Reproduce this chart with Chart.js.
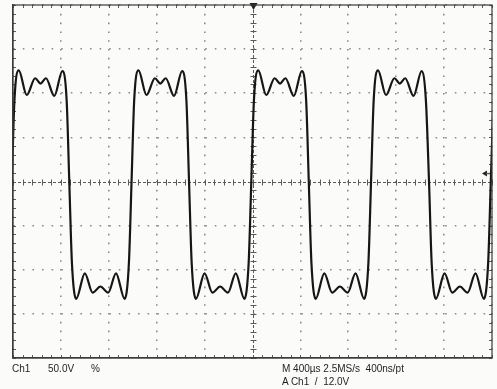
<!DOCTYPE html>
<html>
<head>
<meta charset="utf-8">
<script src="https://cdn.jsdelivr.net/npm/chart.js@4.4.0/dist/chart.umd.min.js"></script>
<style>
  html, body { margin: 0; padding: 0; background: #fbfbf9; }
  #wrap { position: relative; width: 497px; height: 389px; }
  #scope { position: absolute; left: 0; top: 0; }
  .lbl {
    position: absolute; font-family: "Liberation Sans", Arial, sans-serif;
    font-size: 10px; line-height: 1; color: #1e1e1e; white-space: pre;
  }
</style>
</head>
<body>
<div id="wrap">
  <canvas id="scope" width="497" height="389"></canvas>
  <div class="lbl" style="left:12px;top:364px;">Ch1</div>
  <div class="lbl" style="left:48px;top:364px;">50.0V</div>
  <div class="lbl" style="left:91px;top:364px;">%</div>
  <div class="lbl" style="left:282px;top:364px;">M 400µs 2.5MS/s  400ns/pt</div>
  <div class="lbl" style="left:282px;top:377px;">A Ch1  /  12.0V</div>
</div>
<script>
// trace: time in µs (400 µs/div), level in V (50 V/div)
const traceTimeUs = [
  -32, -10, 12, 48, 115, 185, 230, 275, 345, 412, 448, 470, 492, 528, 600, 665, 730, 795, 860, 932, 968,
  990, 1012, 1048, 1115, 1185, 1230, 1275, 1345, 1412, 1448, 1470, 1492, 1528, 1600, 1665, 1730, 1795, 1860, 1932, 1968,
  1990, 2012, 2048, 2115, 2185, 2230, 2275, 2345, 2412, 2448, 2470, 2492, 2528, 2600, 2665, 2730, 2795, 2860, 2932, 2968,
  2990, 3012, 3048, 3115, 3185, 3230, 3275, 3345, 3412, 3448, 3474, 3496, 3532, 3604, 3668, 3732, 3796, 3862, 3932, 3968,
  3990, 4012
];
const traceVolts = [
  -92, 0, 92, 126, 98, 117, 111, 117, 97, 125, 92, 0, -92, -133, -104, -126, -119, -126, -104, -133, -92,
  0, 92, 126, 98, 117, 111, 117, 97, 125, 92, 0, -92, -133, -104, -126, -119, -126, -104, -133, -92,
  0, 92, 126, 98, 117, 111, 117, 97, 125, 92, 0, -92, -133, -104, -126, -119, -126, -104, -133, -92,
  0, 92, 126, 98, 117, 111, 117, 97, 125, 92, 0, -92, -133, -104, -126, -119, -126, -104, -133, -92,
  0, 92
];

// screen: 10 x 8 divisions
const timeRange = [0, 4000];   // µs
const voltRange = [-200, 200]; // V
const timePerDiv = 400;
const voltPerDiv = 50;
const triggerPosUs = 2000;
const triggerLevelV = 9;

const points = traceTimeUs.map((t, i) => ({ x: t, y: traceVolts[i] }));

// graticule extras: centre cross with minor ticks, edge ticks, trigger marks
const scopeMarks = {
  id: 'scopeMarks',
  beforeDatasetsDraw(chart) {
    const { ctx, chartArea: a, scales: { x, y } } = chart;
    const xc = Math.round(x.getPixelForValue(triggerPosUs)) + 0.5;
    const yc = Math.round(y.getPixelForValue(0)) + 0.5;
    ctx.save();
    ctx.strokeStyle = '#5a5a5a';
    ctx.lineWidth = 1;

    // centre lines (dashed)
    ctx.setLineDash([3, 2]);
    ctx.beginPath();
    ctx.moveTo(a.left, yc); ctx.lineTo(a.right, yc);
    ctx.moveTo(xc, a.top); ctx.lineTo(xc, a.bottom);
    ctx.stroke();
    ctx.setLineDash([]);

    // minor ticks, 5 per division
    ctx.beginPath();
    for (let t = timeRange[0]; t <= timeRange[1]; t += timePerDiv / 5) {
      const px = Math.round(x.getPixelForValue(t)) + 0.5;
      ctx.moveTo(px, yc - 3); ctx.lineTo(px, yc + 3);
      ctx.moveTo(px, a.top); ctx.lineTo(px, a.top + 3);
      ctx.moveTo(px, a.bottom); ctx.lineTo(px, a.bottom - 3);
    }
    for (let v = voltRange[0]; v <= voltRange[1]; v += voltPerDiv / 5) {
      const py = Math.round(y.getPixelForValue(v)) + 0.5;
      ctx.moveTo(xc - 3, py); ctx.lineTo(xc + 3, py);
      ctx.moveTo(a.left, py); ctx.lineTo(a.left + 3, py);
      ctx.moveTo(a.right, py); ctx.lineTo(a.right - 3, py);
    }
    ctx.stroke();

    // trigger position (top) and level (right)
    ctx.fillStyle = '#222';
    ctx.beginPath();
    ctx.moveTo(xc - 4, a.top - 2); ctx.lineTo(xc + 4, a.top - 2); ctx.lineTo(xc, a.top + 5);
    ctx.closePath(); ctx.fill();
    const yt = y.getPixelForValue(triggerLevelV);
    ctx.beginPath();
    ctx.moveTo(a.right - 10, yt); ctx.lineTo(a.right - 5, yt - 3); ctx.lineTo(a.right - 5, yt + 3);
    ctx.closePath(); ctx.fill();
    ctx.lineWidth = 1.5;
    ctx.beginPath(); ctx.moveTo(a.right - 6, yt); ctx.lineTo(a.right, yt); ctx.stroke();
    ctx.restore();
  }
};

const gridColor = edge => c =>
  (c.tick.value === edge ? 'rgba(0,0,0,0)' : '#8c8c8c');

new Chart(document.getElementById('scope'), {
  type: 'line',
  data: {
    datasets: [{
      data: points,
      borderColor: '#161616',
      borderWidth: 2.2,
      pointRadius: 0,
      cubicInterpolationMode: 'monotone',
      fill: false
    }]
  },
  options: {
    responsive: false,
    animation: false,
    events: [],
    layout: { padding: { left: 13, top: 5, right: 5, bottom: 31 } },
    plugins: { legend: { display: false }, tooltip: { enabled: false } },
    scales: {
      x: {
        type: 'linear', min: timeRange[0], max: timeRange[1],
        ticks: { display: false, stepSize: timePerDiv },
        grid: { color: gridColor(triggerPosUs), lineWidth: 1.6, drawTicks: false },
        border: { display: true, color: '#3a3a3a', width: 1.2, dash: [1.6, 7.2] }
      },
      y: {
        type: 'linear', min: voltRange[0], max: voltRange[1],
        ticks: { display: false, stepSize: voltPerDiv },
        grid: { color: gridColor(0), lineWidth: 1.6, drawTicks: false },
        border: { display: true, color: '#3a3a3a', width: 1.2, dash: [1.6, 8] }
      }
    }
  },
  plugins: [scopeMarks]
});

// right and top edges of the screen
const frame = {
  id: 'frame',
  afterDraw(chart) {
    const { ctx, chartArea: a } = chart;
    ctx.save();
    ctx.strokeStyle = '#3a3a3a';
    ctx.lineWidth = 1.2;
    ctx.strokeRect(a.left, a.top, a.right - a.left, a.bottom - a.top);
    ctx.restore();
  }
};
Chart.register(frame);
Chart.getChart('scope').update();
</script>
</body>
</html>
